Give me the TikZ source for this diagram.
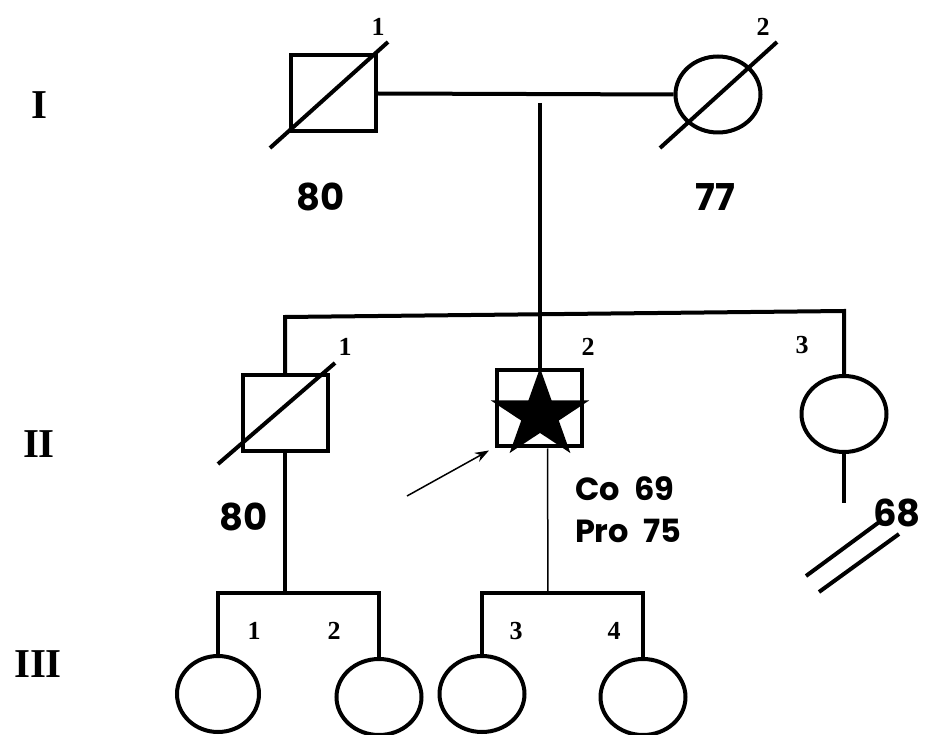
\documentclass[tikz,border=0pt]{standalone}
\usepackage{fontspec}
\setmainfont{Liberation Serif}
\newfontfamily\comicfont{Poppins}
\usepackage{tikz}
\usetikzlibrary{shapes.geometric,arrows.meta,positioning,calc}

\begin{document}
\begin{tikzpicture}[x=1pt, y=-1pt, line width=4pt,
    male/.style={draw, rectangle, minimum width=85pt, minimum height=76pt, inner sep=0pt},
    female/.style={draw, ellipse, minimum width=85pt, minimum height=76pt, inner sep=0pt},
    idnum/.style={font=\fontsize{26}{28}\selectfont\bfseries, inner sep=0pt},
    gen/.style={font=\fontsize{41}{44}\selectfont\bfseries, inner sep=0pt},
    age/.style={font=\fontsize{37}{40}\selectfont\comicfont\bfseries, inner sep=0pt},
    thinline/.style={line width=1.5pt}]
    \useasboundingbox (0,0) rectangle (930,735);

    % generation I
    \node[male] (I1) at (333,93.5) {};
    \node[female] (I2) at (718,94.5) {};
    \draw ([shift={(-63,54.5)}]I1.center) -- ([shift={(55,-51.5)}]I1.center);
    \draw ([shift={(-58,53.5)}]I2.center) -- ([shift={(59,-52.5)}]I2.center);
    \draw (I1.east) -- (I2.west);

    % generation II
    \node[male] (II1) at (285,413.5) {};
    \node[male] (II2) at (539.5,408.5) {};
    \node[star, star points=5, star point ratio=2.618, fill, draw=none, minimum size=94pt, inner sep=0pt, outer sep=0pt, xscale=1.1, transform shape] (II2star) at (540,415) {};
    \node[female] (II3) at (844,414) {};
    \draw ([shift={(-67,50.5)}]II1.center) -- ([shift={(50,-50.5)}]II1.center);

    \coordinate (desc) at (540,103);
    \coordinate (sibL) at (285,317);
    \coordinate (sibR) at (844,311);
    \draw (desc) -- (II2star.north);
    \draw (II1.north) -- (sibL) -- (sibR) -- (II3.north);

    % generation III
    \node[female, minimum width=82pt] (III1) at (218,694) {};
    \node[female] (III2) at (379,697) {};
    \node[female] (III3) at (482,694) {};
    \node[female] (III4) at (643,697) {};

    \coordinate (kidsA) at (285,593);
    \coordinate (kidsB) at (548,593);
    \draw (II1.south) -- (kidsA);
    \draw (III1.north) -- (III1.north |- kidsA) -- (III2.north |- kidsA) -- (III2.north);
    \draw (III3.north) -- (III3.north |- kidsB) -- (III4.north |- kidsB) -- (III4.north);
    \draw[thinline] ([xshift=8pt]II2.south) -- (kidsB);

    \coordinate (II3end) at (844,503);
    \draw (II3.south) -- (II3end);
    \draw (806,576) -- (882,520);
    \draw (819,592) -- (899,534);

    % proband arrow
    \coordinate (arrtail) at (407,496);
    \draw[thinline, -{Stealth[length=14pt, width=10pt]}] (arrtail) -- ([shift={(-6,2)}]II2.south west);

    % numbers
    \node[idnum] (nI1) at (378,27) {1};
    \node[idnum] (nI2) at (763,27) {2};
    \node[idnum] (nII1) at (345,347) {1};
    \node[idnum] (nII2) at (588,347) {2};
    \node[idnum] (nII3) at (802,345) {3};
    \node[idnum] (nIII1) at (254,631) {1};
    \node[idnum] (nIII2) at (334,631) {2};
    \node[idnum] (nIII3) at (516,631) {3};
    \node[idnum] (nIII4) at (614,631) {4};

    \node[gen] (genI) at (39,105) {I};
    \node[gen] (genII) at (39,444) {II};
    \node[gen] (genIII) at (38,664) {III};

    \node[age] (aI1) at (321,197) {80};
    \node[age] (aI2) at (715,197) {77};
    \node[age] (aII1) at (244,517) {80};
    \node[age] (aII3) at (897,513) {68};
    \node[anchor=west, align=left, inner sep=0pt, font=\fontsize{32}{42}\selectfont\comicfont\bfseries] (aII2) at (573,510) {Co\hspace{0.45em}69\\Pro\hspace{0.45em}75};
\end{tikzpicture}
\end{document}
